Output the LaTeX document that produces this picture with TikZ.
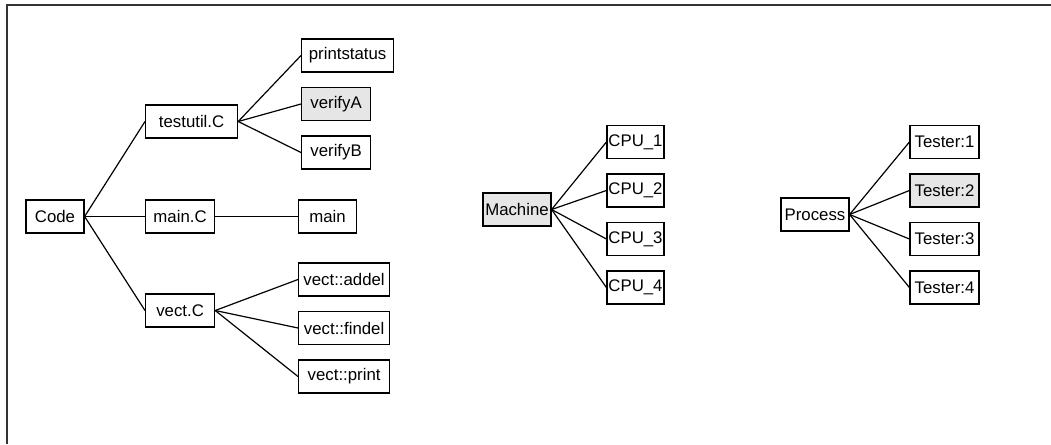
\documentclass[tikz,border=0pt]{standalone}
\usepackage{fontspec}
\setmainfont{Liberation Sans}
\usepackage{xcolor}
\usepackage{tikz}
\usetikzlibrary{positioning}
\definecolor{frameish}{RGB}{51,51,51}
\definecolor{greyish}{RGB}{230,230,230}
\tikzset{%
  box/.style={rectangle, draw=black, fill=white, line width=1.2pt, inner sep=0pt, minimum height=33pt, font=\fontsize{16.8}{20}\selectfont},
  marked/.style={box, fill=greyish},
  branch/.style={line width=1.2pt}
}

\begin{document}
\begin{tikzpicture}[x=1pt, y=-1pt, node distance=48.5pt]
        \useasboundingbox (0,0) rectangle (1051,444);
        \draw [frameish, line width=1.8pt] (6.8,444) -- (6.8,4.8) -- (1051,4.8);

        % code tree
        \node [box, minimum width=58pt]                      (code)  at (55,216.5)   {Code};
        \node [box, minimum width=92pt, anchor=west]         (tutl)  at (145,121.5)  {testutil.C};
        \node [box, minimum width=69pt, anchor=west]         (mnc)   at (145,216.5)  {main.C};
        \node [box, minimum width=69pt, anchor=west]         (vctc)  at (145,310.5)  {vect.C};
        \node [box, minimum width=92pt, anchor=west]         (prst)  at (301,55.5)   {printstatus};
        \node [marked, minimum width=69pt, anchor=west]      (vfya)  at (301,104)    {verifyA};
        \node [box, minimum width=69pt, anchor=west]         (vfyb)  at (301,152.5)  {verifyB};
        \node [box, minimum width=58pt, anchor=west]         (mn)    at (298,216.5)  {main};
        \node [box, minimum width=91pt, anchor=west]         (addl)  at (298,279.5)  {vect::addel};
        \node [box, minimum width=91pt, below of=addl]       (fndl)                  {vect::findel};
        \node [box, minimum width=91pt, below of=fndl]       (vprt)                  {vect::print};

        % machine tree
        \node [marked, minimum width=68pt]                   (mach)  at (517,209.5)  {Machine};
        \node [box, minimum width=57pt]                      (cpua)  at (635.5,142)  {CPU\_1};
        \node [box, minimum width=57pt, below of=cpua]       (cpub)                  {CPU\_2};
        \node [box, minimum width=57pt, below of=cpub]       (cpuc)                  {CPU\_3};
        \node [box, minimum width=57pt, below of=cpuc]       (cpud)                  {CPU\_4};

        % process tree
        \node [box, minimum width=68pt]                      (proc)  at (815,214.5)  {Process};
        \node [box, minimum width=69pt]                      (tsta)  at (944.5,142)  {Tester:1};
        \node [marked, minimum width=69pt, below of=tsta]    (tstb)                  {Tester:2};
        \node [box, minimum width=69pt, below of=tstb]       (tstc)                  {Tester:3};
        \node [box, minimum width=69pt, below of=tstc]       (tstd)                  {Tester:4};

        \foreach \kid in {tutl,mnc,vctc}
            \draw [branch] (code.east) -- (\kid.west);
        \foreach \kid in {prst,vfya,vfyb}
            \draw [branch] (tutl.east) -- (\kid.west);
        \draw [branch] (mnc.east) -- (mn.west);
        \foreach \kid in {addl,fndl,vprt}
            \draw [branch] (vctc.east) -- (\kid.west);
        \foreach \kid in {cpua,cpub,cpuc,cpud}
            \draw [branch] (mach.east) -- (\kid.west);
        \foreach \kid in {tsta,tstb,tstc,tstd}
            \draw [branch] (proc.east) -- (\kid.west);
    \end{tikzpicture}
\end{document}
